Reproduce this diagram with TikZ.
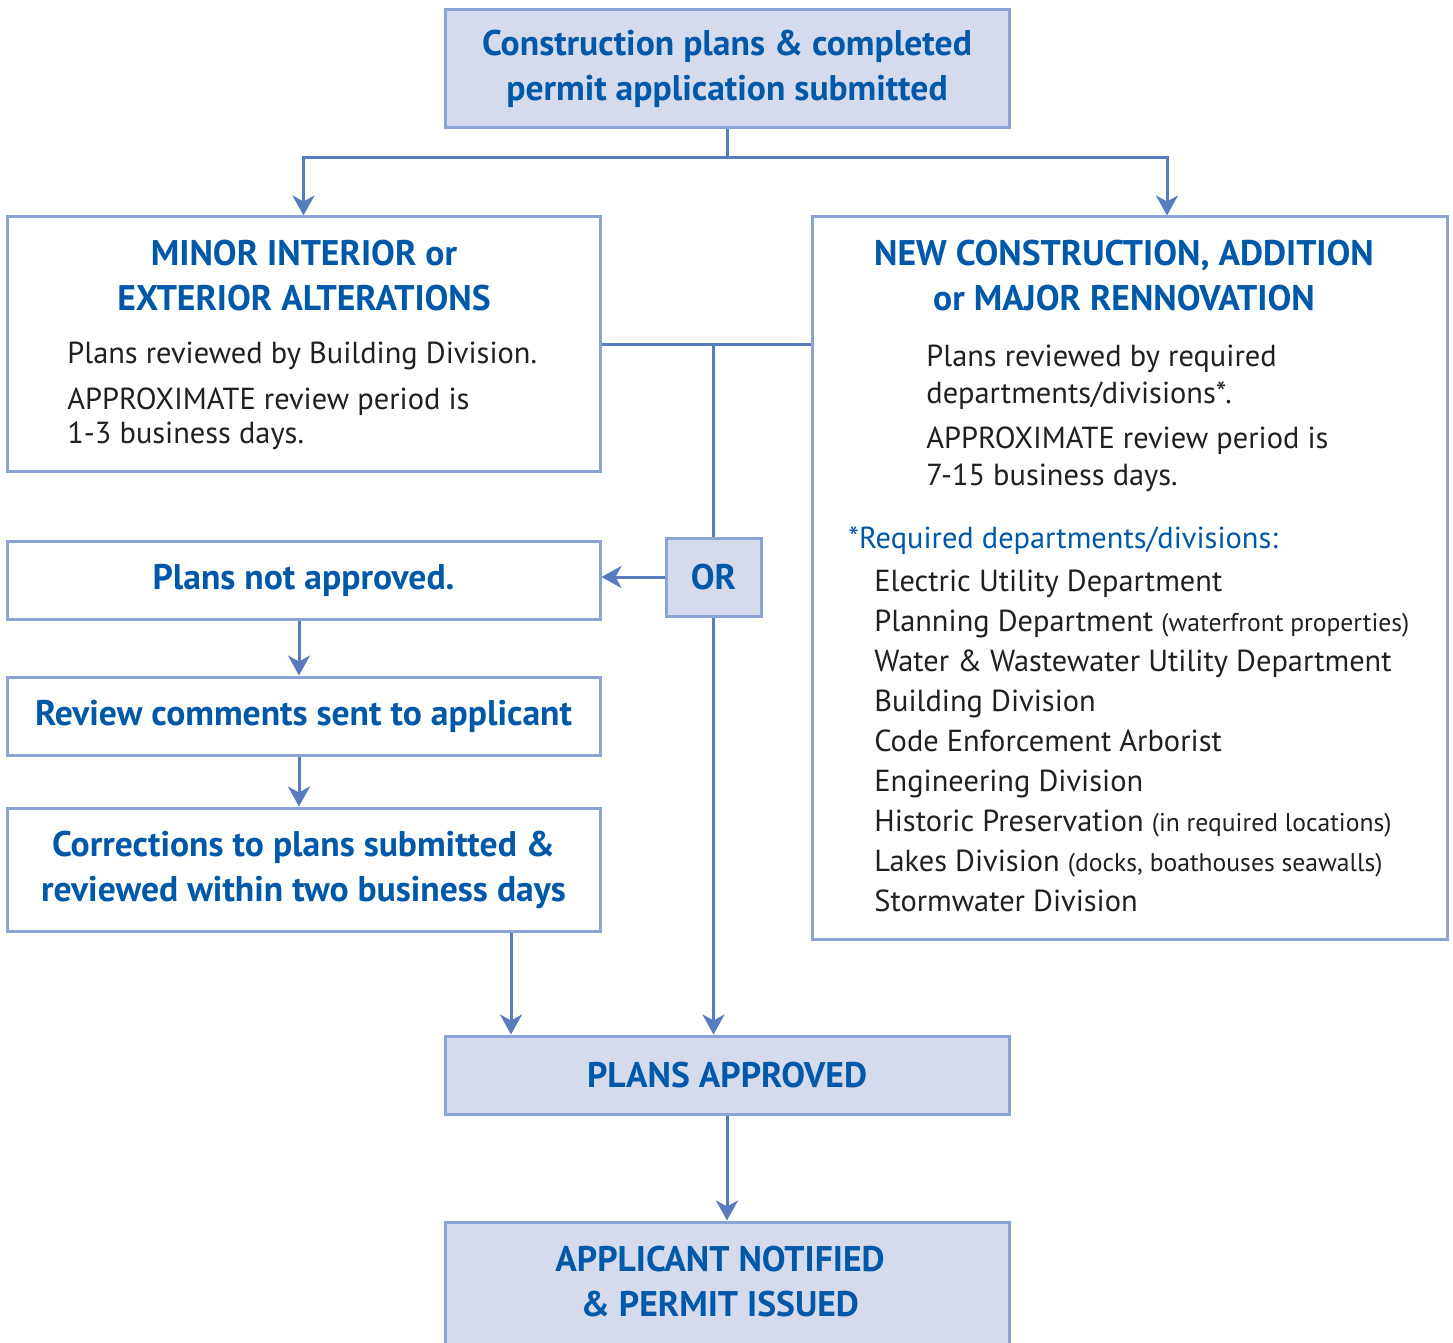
\documentclass[tikz,border=0pt]{standalone}
\usepackage{fontspec}
\setmainfont{PT Sans}
\usetikzlibrary{arrows.meta}
\definecolor{flowblue}{RGB}{0,88,168}
\definecolor{flowline}{RGB}{88,124,190}
\definecolor{flowedge}{RGB}{140,163,214}
\definecolor{flowfill}{RGB}{213,219,237}
\definecolor{flowtext}{RGB}{35,31,32}
\newcommand\flowhead{\fontsize{17.8}{22.5}\selectfont\bfseries}
\newcommand\flowbody{\fontsize{15.2}{17}\selectfont}
\newcommand\flowsmall{\fontsize{12.8}{14}\selectfont}

\begin{document}
\begin{tikzpicture}[x=0.5pt,y=-0.5pt,>={Stealth[length=10pt,width=11pt,inset=3pt]},
  fb/.style={draw=flowedge,line width=1.5pt,fill=flowfill,inner sep=0pt,
             minimum width=282pt,minimum height=39pt,align=center,
             text=flowblue,font=\flowhead},
  wb/.style={draw=flowedge,line width=1.5pt,fill=white,inner sep=0pt,
             minimum width=296.5pt,minimum height=39pt,align=center,
             text=flowblue,font=\flowhead},
  hd/.style={inner sep=0pt,align=center,text=flowblue,font=\flowhead},
  tx/.style={inner sep=0pt,align=left,anchor=north west,text=flowtext,font=\flowbody},
  ln/.style={draw=flowline,line width=1.5pt}]
  \useasboundingbox (0,0) rectangle (1453,1343);

  \node[fb,minimum height=59pt](submit)   at (727,69)    {Construction plans \& completed\\permit application submitted};
  \node[wb,minimum height=127pt](minor)   at (303.5,344) {};
  \node[wb,minimum width=317.5pt,minimum height=361pt](major) at (1129.5,578) {};
  \node[wb](notappr)                      at (303.5,580) {Plans not approved.};
  \node[fb,minimum width=47.5pt](orbox)   at (713.5,577) {OR};
  \node[wb](comments)                     at (303.5,716) {Review comments sent to applicant};
  \node[wb,minimum height=61.5pt](fixes)  at (303.5,869.5){Corrections to plans submitted \&\\reviewed within two business days};
  \node[fb](approved)                     at (727,1075)  {PLANS APPROVED};
  \node[fb,minimum height=70pt](issued)   at (727,1292)  {};
  \node[hd](issuedtxt) at (720,1282) {APPLICANT NOTIFIED\\\& PERMIT ISSUED};

  \node[hd](minorhead) at (304,276) {MINOR INTERIOR or\\EXTERIOR ALTERATIONS};
  \node[tx](minorbody) at (67,342)
    {Plans reviewed by Building Division.\\[6pt]
     APPROXIMATE review period is\\1-3 business days.};

  \node[hd](majorhead) at (1124,276) {NEW CONSTRUCTION, ADDITION\\or MAJOR RENNOVATION};
  \node[tx,font=\fontsize{15.2}{18.5}\selectfont](majorbody) at (926,345)
    {Plans reviewed by required\\departments/divisions*.\\[4pt]
     APPROXIMATE review period is\\7-15 business days.};
  \node[tx,text=flowblue](reqhead) at (848,526) {*Required departments/divisions:};
  \node[tx,font=\fontsize{15.2}{20}\selectfont](reqlist) at (874,570)
    {Electric Utility Department\\
     Planning Department {\flowsmall(waterfront properties)}\\
     Water \& Wastewater Utility Department\\
     Building Division\\
     Code Enforcement Arborist\\
     Engineering Division\\
     Historic Preservation {\flowsmall(in required locations)}\\
     Lakes Division {\flowsmall(docks, boathouses seawalls)}\\
     Stormwater Division};

  \coordinate (split) at (727,158);
  \draw[ln] (submit.south) -- (split);
  \draw[ln,->] (split) -| (minor.north);
  \draw[ln,->] (split) -| ([xshift=18.75pt]major.north);
  \draw[ln] (minor.east) -- (minor.east -| major.west);
  \draw[ln] (orbox.north) -- (orbox.north |- minor.east);
  \draw[ln,->] (orbox.west) -- (orbox.west -| notappr.east);
  \draw[ln,->] ([xshift=-2.25pt]notappr.south) -- ([xshift=-2.25pt]comments.north);
  \draw[ln,->] ([xshift=-2.25pt]comments.south) -- ([xshift=-2.25pt]fixes.north);
  \draw[ln,->] (fixes.south -| 511,0) -- (approved.north -| 511,0);
  \draw[ln,->] (orbox.south) -- (orbox.south |- approved.north);
  \draw[ln,->] (approved.south) -- (issued.north);
\end{tikzpicture}
\end{document}
